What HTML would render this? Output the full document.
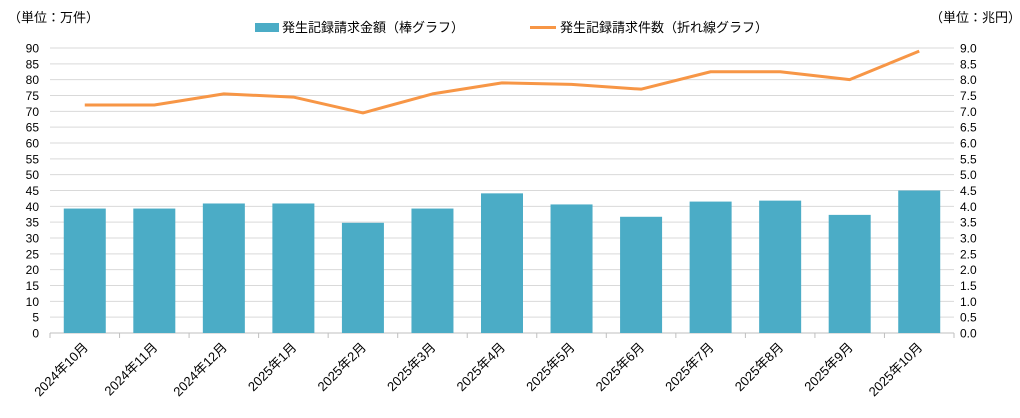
<!DOCTYPE html>
<html><head><meta charset="utf-8"><style>
body{margin:0;background:#fff;}
svg text{font-family:"Liberation Sans","Noto Sans CJK JP",sans-serif;fill:#000;}
</style></head><body>
<svg width="1020" height="413" viewBox="0 0 1020 413" xmlns="http://www.w3.org/2000/svg">
<text x="8" y="22" font-size="13">（単位：万件）</text>
<text x="930" y="22" font-size="13">（単位：兆円）</text>
<rect x="255" y="23" width="24" height="9" fill="#4bacc6"/>
<text x="282" y="32" font-size="13">発生記録請求金額（棒グラフ）</text>
<line x1="530" y1="27.5" x2="556" y2="27.5" stroke="#f79646" stroke-width="3"/>
<text x="560" y="32" font-size="13">発生記録請求件数（折れ線グラフ）</text>
</svg>
<script>
const s=document.querySelector('svg'),ns='http://www.w3.org/2000/svg';
function el(t,a,txt){const e=document.createElementNS(ns,t);for(const k in a)e.setAttribute(k,a[k]);if(txt!=null)e.textContent=txt;s.appendChild(e);return e;}
const L=50,R=954,Y0=333,Y90=48,h=(Y0-Y90)/90;
for(let k=0;k<=18;k++){const y=Y0-k*5*h;
 el('line',{x1:L,x2:R,y1:y,y2:y,stroke:k==0?'#bfbfbf':'#d9d9d9','stroke-width':1});
 el('text',{x:39,y:y+4.5,'font-size':12,'text-anchor':'end'},String(k*5));
 el('text',{x:960,y:y+4.5,'font-size':12},(k*0.5).toFixed(1));}
const cw=(R-L)/13;
for(let i=0;i<=13;i++){const x=L+i*cw;el('line',{x1:x,x2:x,y1:Y0,y2:Y0+5,stroke:'#bfbfbf'});}
const bars=[39.3,39.3,40.9,40.9,34.8,39.3,44.1,40.6,36.7,41.5,41.8,37.3,45.0];
const line=[7.2,7.2,7.55,7.45,6.95,7.55,7.9,7.85,7.7,8.25,8.25,8.0,8.9];
const labs=['2024年10月','2024年11月','2024年12月','2025年1月','2025年2月','2025年3月','2025年4月','2025年5月','2025年6月','2025年7月','2025年8月','2025年9月','2025年10月'];
let pts=[];
bars.forEach((v,i)=>{const cx=L+cw*(i+0.5);
 el('rect',{x:cx-21,y:Y0-v*h,width:42,height:v*h,fill:'#4bacc6'});
 pts.push(cx+','+(Y0-line[i]*10*h));
 el('text',{x:cx+4,y:348,'font-size':13,'text-anchor':'end',transform:`rotate(-45 ${cx+4} 348)`},labs[i]);});
el('polyline',{points:pts.join(' '),fill:'none',stroke:'#f79646','stroke-width':3,'stroke-linejoin':'round'});
</script>
</body></html>
